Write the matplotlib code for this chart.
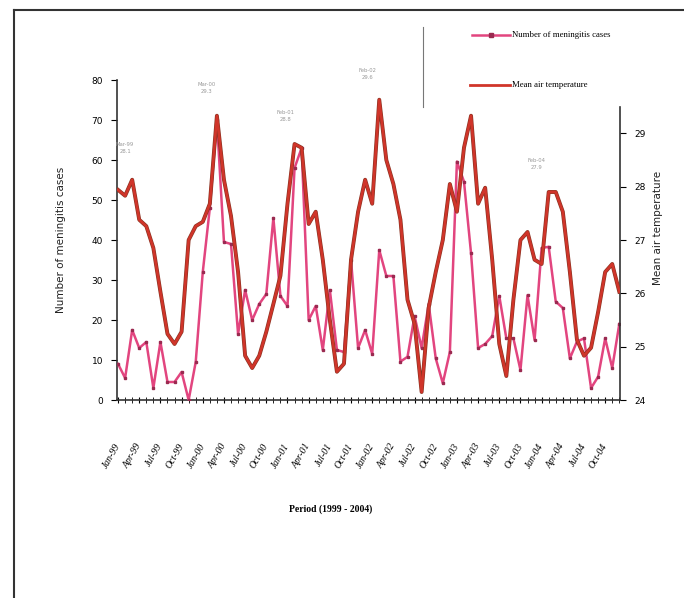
import matplotlib
matplotlib.use("Agg")
import matplotlib.pyplot as plt
from matplotlib.lines import Line2D
import matplotlib.patheffects as pe

# Monthly series, Jan-1999 .. Dec-2004 (72 months)
meningitis_cases = [9, 5.5, 17.5, 13, 14.5, 3, 14.5, 4.5, 4.5, 7, 0, 9.5,
                    32, 48, 70, 39.5, 39, 16.5, 27.5, 20, 24, 26.5, 45.5, 26,
                    23.5, 58, 63, 20, 23.5, 12.5, 27.5, 12.5, 12, 35, 13, 17.5,
                    11.5, 37.5, 31, 31, 9.6, 10.8, 21, 13, 24, 10.4, 4.2, 12,
                    59.6, 54.6, 36.7, 13, 14, 16, 26, 15.4, 15.4, 7.5, 26.2, 15,
                    38, 38.3, 24.6, 23, 10.4, 14.6, 15.4, 3, 5.8, 15.4, 8, 19]

mean_air_temp = [27.94, 27.83, 28.13, 27.38, 27.26, 26.85, 26.03, 25.24, 25.05, 25.28, 27.0, 27.26,
                 27.34, 27.68, 29.33, 28.13, 27.45, 26.4, 24.83, 24.6, 24.83, 25.28, 25.8, 26.33,
                 27.68, 28.8, 28.73, 27.3, 27.53, 26.63, 25.5, 24.53, 24.68, 26.63, 27.53, 28.13,
                 27.68, 29.63, 28.5, 28.05, 27.38, 25.88, 25.43, 24.15, 25.73, 26.4, 27.0, 28.05,
                 27.53, 28.73, 29.33, 27.68, 27.98, 26.63, 25.05, 24.45, 25.88, 27.0, 27.15, 26.63,
                 26.55, 27.9, 27.9, 27.53, 26.4, 25.13, 24.83, 24.98, 25.65, 26.4, 26.55, 26.03]

tick_labels = ["Jan-99", "Apr-99", "Jul-99", "Oct-99", "Jan-00", "Apr-00", "Jul-00", "Oct-00",
               "Jan-01", "Apr-01", "Jul-01", "Oct-01", "Jan-02", "Apr-02", "Jul-02", "Oct-02",
               "Jan-03", "Apr-03", "Jul-03", "Oct-03", "Jan-04", "Apr-04", "Jul-04", "Oct-04"]

# small data labels near the temperature peaks
peak_labels = ["Mar-99\n28.1", "Mar-00\n29.3", "Feb-01\n28.8", "Feb-02\n29.6", "Feb-04\n27.9"]
peak_label_pos = [(1, 63), (12.5, 78), (23.7, 71), (35.3, 81.5), (59.3, 59)]

months = list(range(len(meningitis_cases)))

cor_casos = "#e2457f"
cor_temp = "#d0352a"

fig = plt.figure(figsize=(6.84, 5.98), dpi=100)
ax1 = fig.add_axes([117 / 684, 1 - 400 / 598, 503 / 684, 320 / 598])
ax2 = ax1.twinx()

# casos de meningite (eixo esquerdo)
ax1.plot(months, meningitis_cases, color=cor_casos, lw=1.8, marker="s", ms=1.6,
         mfc="#9a2a50", mec="#9a2a50", zorder=3)
ax1.set_xlim(-0.15, 71.1)
ax1.set_ylim(0, 80)
ax1.set_yticks(range(0, 81, 10))
ax1.tick_params(axis="y", direction="out", length=4, labelsize=6.5, pad=6)

ax1.set_xticks(range(0, 72, 3))
ax1.set_xticklabels(tick_labels, rotation=60, rotation_mode="anchor", ha="right", va="center",
                    fontsize=7, family="Liberation Serif", style="italic")
ax1.set_xticks(months, minor=True)
ax1.tick_params(axis="x", which="both", direction="inout", length=4, pad=30)

ax1.spines["top"].set_visible(False)
ax1.spines["right"].set_visible(False)
for s in ["left", "bottom"]:
    ax1.spines[s].set_linewidth(1.2)
    ax1.spines[s].set_color("#333333")

# temperatura media (eixo direito)
ax2.plot(months, mean_air_temp, color=cor_temp, lw=1.9, zorder=4,
         path_effects=[pe.Stroke(linewidth=2.8, foreground="#8a3322"), pe.Normal()])
ax2.set_ylim(24, 30)
ax2.set_yticks(range(24, 30))
ax2.tick_params(axis="y", direction="out", length=4, labelsize=6.5, pad=6)
ax2.spines["top"].set_visible(False)
ax2.spines["left"].set_visible(False)
ax2.spines["bottom"].set_visible(False)
ax2.spines["right"].set_bounds(24, 29.5)
ax2.spines["right"].set_linewidth(1.2)
ax2.spines["right"].set_color("#333333")

# rotulos dos eixos
fig.text(61 / 684, 1 - 240 / 598, "Number of meningitis cases", rotation=90, ha="center", va="center",
         fontsize=7.5, color="#222222")
fig.text(658 / 684, 1 - 228 / 598, "Mean air temperature", rotation=90, ha="center", va="center",
         fontsize=7.5, color="#222222")
fig.text(331 / 684, 1 - 509 / 598, "Period (1999 - 2004)", ha="center", va="center",
         fontsize=7, family="Liberation Serif", weight="bold")

for txt, (xp, yp) in zip(peak_labels, peak_label_pos):
    ax1.text(xp, yp, txt, fontsize=3.8, color="#999999", ha="center", va="center",
             linespacing=1.3, clip_on=False)

# legenda manual
fig.add_artist(Line2D([472 / 684, 510 / 684], [1 - 35 / 598] * 2, color=cor_casos, lw=1.8))
fig.add_artist(Line2D([491 / 684], [1 - 35 / 598], color="#9a2a50", marker="s", ms=2.2))
fig.text(512 / 684, 1 - 35 / 598, "Number of meningitis cases", fontsize=6.3,
         family="Liberation Serif", va="center")
fig.add_artist(Line2D([470 / 684, 510 / 684], [1 - 85 / 598] * 2, color=cor_temp, lw=2.0))
fig.text(512 / 684, 1 - 85 / 598, "Mean air temperature", fontsize=6.3,
         family="Liberation Serif", va="center")
fig.add_artist(Line2D([423 / 684] * 2, [1 - 27 / 598, 1 - 107 / 598], color="#777777", lw=0.8))

# moldura externa
fig.add_artist(Line2D([14 / 684, 1.0], [1 - 10 / 598] * 2, color="#333333", lw=1.5))
fig.add_artist(Line2D([14 / 684] * 2, [1 - 10 / 598, 0.0], color="#333333", lw=1.5))

plt.savefig("out.png", dpi=100)
